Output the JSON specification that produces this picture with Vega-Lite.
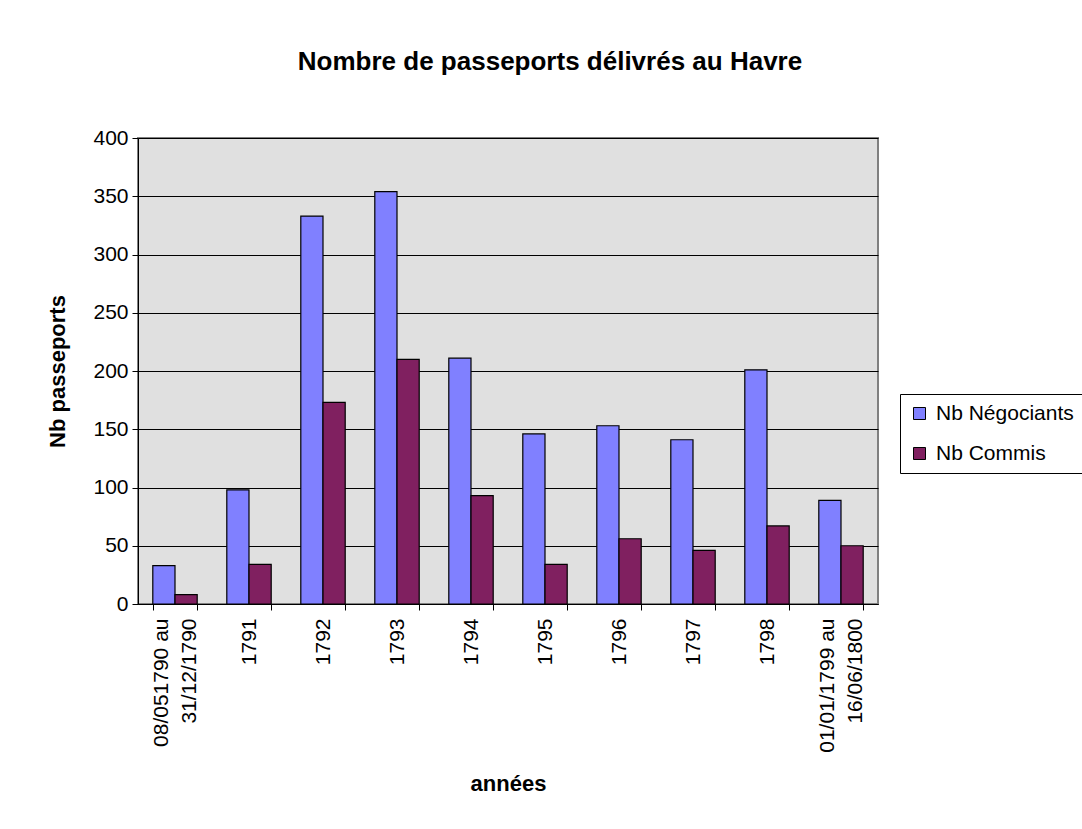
{
  "$schema": "https://vega.github.io/schema/vega-lite/v6.json",
  "width": 740,
  "height": 466,
  "autosize": {"type": "none"},
  "padding": {"left": 138, "top": 138, "right": 204, "bottom": 225},
  "background": "white",
  "title": {
    "text": "Nombre de passeports délivrés au Havre",
    "font": "Liberation Sans",
    "fontSize": 26,
    "fontWeight": "bold",
    "color": "black",
    "anchor": "middle",
    "frame": "group",
    "dx": 42,
    "baseline": "alphabetic",
    "offset": 31
  },
  "data": {
    "values": [
      {"periode": "08/051790 au 31/12/1790", "serie": "Nb Négociants", "nb": 33},
      {"periode": "08/051790 au 31/12/1790", "serie": "Nb Commis", "nb": 8},
      {"periode": "1791", "serie": "Nb Négociants", "nb": 98},
      {"periode": "1791", "serie": "Nb Commis", "nb": 34},
      {"periode": "1792", "serie": "Nb Négociants", "nb": 333},
      {"periode": "1792", "serie": "Nb Commis", "nb": 173},
      {"periode": "1793", "serie": "Nb Négociants", "nb": 354},
      {"periode": "1793", "serie": "Nb Commis", "nb": 210},
      {"periode": "1794", "serie": "Nb Négociants", "nb": 211},
      {"periode": "1794", "serie": "Nb Commis", "nb": 93},
      {"periode": "1795", "serie": "Nb Négociants", "nb": 146},
      {"periode": "1795", "serie": "Nb Commis", "nb": 34},
      {"periode": "1796", "serie": "Nb Négociants", "nb": 153},
      {"periode": "1796", "serie": "Nb Commis", "nb": 56},
      {"periode": "1797", "serie": "Nb Négociants", "nb": 141},
      {"periode": "1797", "serie": "Nb Commis", "nb": 46},
      {"periode": "1798", "serie": "Nb Négociants", "nb": 201},
      {"periode": "1798", "serie": "Nb Commis", "nb": 67},
      {"periode": "01/01/1799 au 16/06/1800", "serie": "Nb Négociants", "nb": 89},
      {"periode": "01/01/1799 au 16/06/1800", "serie": "Nb Commis", "nb": 50}
    ]
  },
  "mark": {"type": "bar", "stroke": "black", "strokeWidth": 1.2},
  "encoding": {
    "x": {
      "field": "periode",
      "type": "nominal",
      "sort": null,
      "scale": {"paddingInner": 0.4, "paddingOuter": 0.2},
      "axis": {
        "title": "années",
        "titleFont": "Liberation Sans",
        "titleFontSize": 22,
        "titleFontWeight": "bold",
        "titleColor": "black",
        "titlePadding": 21,
        "labelAngle": -90,
        "labelFont": "Liberation Sans",
        "labelFontSize": 21,
        "labelColor": "black",
        "labelPadding": 8,
        "labelLineHeight": 14,
        "labelOffset": -14,
        "labelExpr": "indexof(datum.label, ' au ') > 0 ? [substring(datum.label, 0, indexof(datum.label, ' au ') + 3), '\u200b', pad(substring(datum.label, indexof(datum.label, ' au ') + 4), indexof(datum.label, ' au ') + 3, '\u00a0', 'left') + '\u200b'] : ['', datum.label]",
        "tickBand": "extent",
        "tickSize": 6,
        "tickColor": "black",
        "domainColor": "black",
        "grid": false,
        "labelOverlap": false
      }
    },
    "xOffset": {"field": "serie", "type": "nominal", "sort": ["Nb Négociants", "Nb Commis"]},
    "y": {
      "field": "nb",
      "type": "quantitative",
      "scale": {"domain": [0, 400], "nice": false},
      "axis": {
        "title": "Nb passeports",
        "titleFont": "Liberation Sans",
        "titleFontSize": 22,
        "titleFontWeight": "bold",
        "titleColor": "black",
        "titlePadding": 23,
        "values": [0, 50, 100, 150, 200, 250, 300, 350, 400],
        "labelFont": "Liberation Sans",
        "labelFontSize": 21,
        "labelColor": "black",
        "labelPadding": 4,
        "tickSize": 6,
        "tickColor": "black",
        "domainColor": "black",
        "grid": true,
        "gridColor": "black",
        "gridWidth": 1
      }
    },
    "color": {
      "field": "serie",
      "type": "nominal",
      "scale": {"domain": ["Nb Négociants", "Nb Commis"], "range": ["#8080FF", "#802060"]},
      "legend": {
        "title": null,
        "orient": "none",
        "legendX": 762,
        "legendY": 256,
        "direction": "vertical",
        "strokeColor": "black",
        "fillColor": "white",
        "padding": 9,
        "labelFont": "Liberation Sans",
        "labelFontSize": 21,
        "labelColor": "black",
        "labelOffset": 6,
        "rowPadding": 18,
        "symbolType": "square",
        "symbolSize": 144,
        "symbolStrokeColor": "black",
        "symbolStrokeWidth": 1,
        "symbolOpacity": 1
      }
    }
  },
  "config": {
    "view": {"fill": "#E0E0E0", "stroke": "#808080", "strokeWidth": 2}
  }
}
